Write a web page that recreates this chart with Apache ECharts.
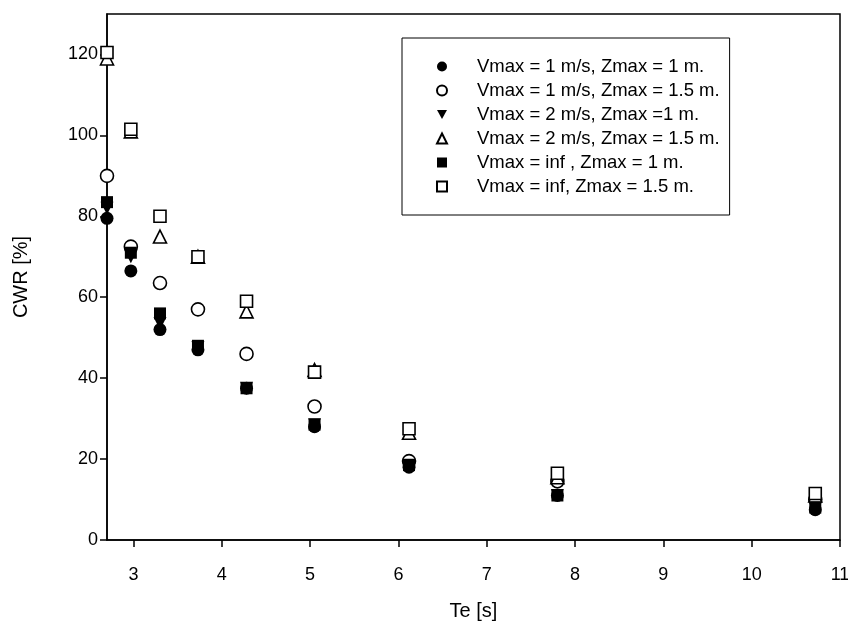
<!DOCTYPE html>
<html>
<head>
<meta charset="utf-8">
<script src="https://cdn.jsdelivr.net/npm/echarts@6/dist/echarts.min.js"></script>
<style>
  html, body { margin: 0; padding: 0; background: #fff; }
  #chart { width: 848px; height: 626px; }
</style>
</head>
<body>
<div id="chart"></div>
<script>
var te = [2.7, 2.97, 3.3, 3.73, 4.28, 5.05, 6.12, 7.8, 10.72];

var v1z1 = [79.5, 66.5, 52, 47, 37.5, 28, 18, 11, 7.5];
var v1z15 = [90, 72.5, 63.5, 57, 46, 33, 19.5, 14.5, 10];
var v2z1 = [82, 70, 53.5, 47.5, 37.5, 28.5, 18.5, 11, 8];
var v2z15 = [119, 101, 75, 70, 56.5, 42, 26.5, 15.5, 11];
var vinfz1 = [83.5, 71, 56, 48, 37.5, 28.5, 18.5, 11, 8];
var vinfz15 = [120.5, 101.5, 80, 70, 59, 41.5, 27.5, 16.5, 11.5];

var names = [
    'Vmax = 1 m/s, Zmax = 1 m.',
    'Vmax = 1 m/s, Zmax = 1.5 m.',
    'Vmax = 2 m/s, Zmax =1 m.',
    'Vmax = 2 m/s, Zmax = 1.5 m.',
    'Vmax = inf , Zmax = 1 m.',
    'Vmax = inf, Zmax = 1.5 m.'
];
var xTicks = [3, 4, 5, 6, 7, 8, 9, 10, 11];
var yTicks = [0, 20, 40, 60, 80, 100, 120];

var triDown = 'path://M0,0 L10,0 L5,9 Z';

function pairs(vals) {
    return te.map(function (x, i) { return [x, vals[i]]; });
}

function mk(name, vals, symbol, filled) {
    return {
        name: name,
        type: 'scatter',
        data: pairs(vals),
        symbol: symbol,
        symbolSize: symbol === 'rect' ? 12 : 13,
        clip: false,
        itemStyle: {
            color: filled ? '#000' : '#fff',
            borderColor: '#000',
            borderWidth: filled ? 0 : 1.6,
            opacity: 1
        }
    };
}

var chart = echarts.init(document.getElementById('chart'));

var font = 'Liberation Sans, Arial, sans-serif';

option = {
    backgroundColor: '#fff',
    animation: false,
    textStyle: { fontFamily: font },
    grid: {
        left: 107,
        right: 8,
        top: 14,
        bottom: 86,
        outerBoundsMode: 'none',
        containLabel: false,
        show: true,
        borderColor: '#000',
        borderWidth: 1.5,
        backgroundColor: 'transparent'
    },
    legend: {
        orient: 'vertical',
        left: 402,
        top: 38,
        padding: [19, 10, 19, 34],
        itemGap: 5,
        itemWidth: 10,
        itemHeight: 10,
        borderColor: '#000',
        borderWidth: 1,
        backgroundColor: '#fff',
        textStyle: { fontSize: 18.5, color: '#000', fontFamily: font, padding: [0, 0, 0, 25] },
        data: names
    },
    xAxis: {
        type: 'value',
        min: 2.7,
        max: 11,
        name: 'Te [s]',
        nameLocation: 'middle',
        nameGap: 61,
        nameTextStyle: { fontSize: 20, color: '#000' },
        splitLine: { show: false },
        axisLine: { lineStyle: { color: '#000', width: 1.5 } },
        axisTick: { show: true, length: 7, customValues: xTicks, lineStyle: { color: '#000', width: 1.5 } },
        axisLabel: { customValues: xTicks, fontSize: 18, color: '#000', margin: 26 }
    },
    yAxis: {
        type: 'value',
        min: 0,
        max: 130,
        name: 'CWR [%]',
        nameLocation: 'middle',
        nameGap: 76,
        nameTextStyle: { fontSize: 20, color: '#000' },
        splitLine: { show: false },
        axisLine: { lineStyle: { color: '#000', width: 1.5 } },
        axisTick: { show: true, length: 7, customValues: yTicks, lineStyle: { color: '#000', width: 1.5 } },
        axisLabel: { customValues: yTicks, fontSize: 18, color: '#000', margin: 9 }
    },
    series: [
        mk(names[0], v1z1, 'circle', true),
        mk(names[1], v1z15, 'circle', false),
        mk(names[2], v2z1, triDown, true),
        mk(names[3], v2z15, 'triangle', false),
        mk(names[4], vinfz1, 'rect', true),
        mk(names[5], vinfz15, 'rect', false)
    ]
};

chart.setOption(option);
</script>
</body>
</html>
